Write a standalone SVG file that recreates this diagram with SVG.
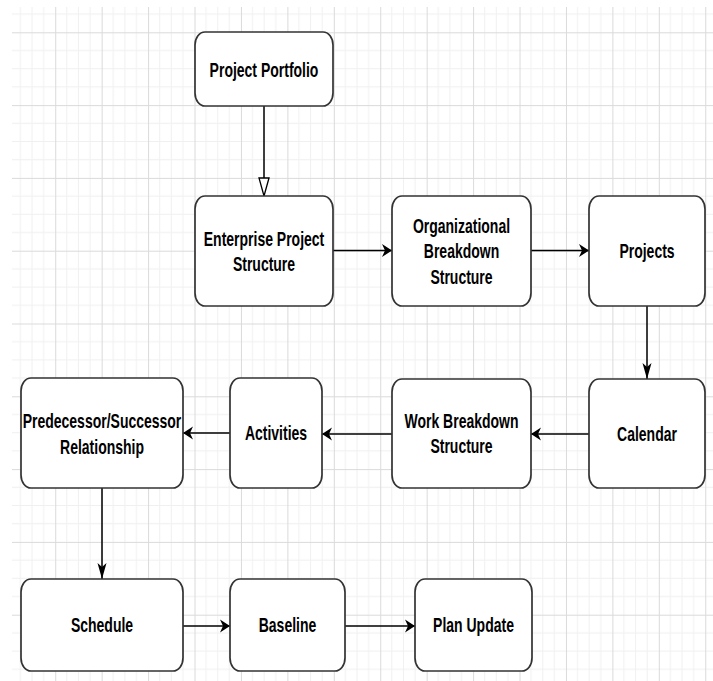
<svg xmlns="http://www.w3.org/2000/svg" width="713" height="681" viewBox="0 0 713 681">
  <defs>
    <pattern id="grid" patternUnits="userSpaceOnUse" x="8.8" y="-40.5" width="46.43" height="72.8">
      <g stroke="#f0f0f0" stroke-width="1" fill="none">
        <path d="M11.6,0 V72.8 M23.2,0 V72.8 M34.8,0 V72.8"/>
        <path d="M0,18.2 H46.43 M0,36.4 H46.43 M0,54.6 H46.43"/>
      </g>
      <g stroke="#dadada" stroke-width="1" fill="none">
        <path d="M0.5,0 V72.8 M0,0.5 H46.43"/>
      </g>
    </pattern>
    <marker id="arrH" markerUnits="userSpaceOnUse" viewBox="0 0 10 13" markerWidth="10" markerHeight="13" refX="10" refY="6.5" orient="auto" overflow="visible">
      <path d="M0,0 L10,6.5 L0,13 L3,6.5 Z" fill="#000"/>
    </marker>
    <marker id="arrV" markerUnits="userSpaceOnUse" viewBox="0 0 16 9" markerWidth="16" markerHeight="9" refX="16" refY="4.5" orient="auto" overflow="visible">
      <path d="M0,0 L16,4.5 L0,9 L4,4.5 Z" fill="#000"/>
    </marker>
    <marker id="tri" markerUnits="userSpaceOnUse" viewBox="0 0 18 10" markerWidth="18" markerHeight="10" refX="0" refY="5" orient="auto" overflow="visible">
      <path d="M0,0 L18,5 L0,10 Z" fill="#fff" stroke="#000" stroke-width="1.3"/>
    </marker>
  </defs>
  <style>
    .box { fill: #ffffff; stroke: #333333; stroke-width: 1.7; }
    .lbl { font-family: "Liberation Sans", Arial, sans-serif; font-size: 14px; font-weight: bold; fill: #000; text-anchor: middle; }
    .edge { fill: none; stroke: #000; stroke-width: 1.5; }
  </style>
  <rect x="0" y="0" width="713" height="681" fill="#ffffff"/>
  <rect x="12" y="7" width="701" height="674" fill="url(#grid)"/>

  <g id="connectors">
    <path class="edge" d="M264,106 V178" marker-end="url(#tri)"/>
    <path class="edge" d="M333,250.5 H392" marker-end="url(#arrH)"/>
    <path class="edge" d="M531,250.5 H589" marker-end="url(#arrH)"/>
    <path class="edge" d="M647,306 V379" marker-end="url(#arrV)"/>
    <path class="edge" d="M589,434 H531" marker-end="url(#arrH)"/>
    <path class="edge" d="M392,434 H322" marker-end="url(#arrH)"/>
    <path class="edge" d="M230,433 H183" marker-end="url(#arrH)"/>
    <path class="edge" d="M102,488 V579" marker-end="url(#arrV)"/>
    <path class="edge" d="M183,626 H230" marker-end="url(#arrH)"/>
    <path class="edge" d="M345,626 H415" marker-end="url(#arrH)"/>
  </g>

  <g id="project-portfolio">
    <rect class="box" x="195" y="32" width="138" height="74" rx="10" ry="13"/>
    <text class="lbl" transform="translate(264,76.5) scale(1,1.4)">Project Portfolio</text>
  </g>
  <g id="enterprise-project-structure">
    <rect class="box" x="195" y="196" width="138" height="110" rx="10" ry="13"/>
    <text class="lbl" transform="translate(264,245.5) scale(1,1.4)"><tspan x="0" y="0">Enterprise Project</tspan><tspan x="0" dy="18.2">Structure</tspan></text>
  </g>
  <g id="organizational-breakdown-structure">
    <rect class="box" x="392" y="196" width="139" height="110" rx="10" ry="13"/>
    <text class="lbl" transform="translate(461.5,233) scale(1,1.4)"><tspan x="0" y="0">Organizational</tspan><tspan x="0" dy="18.2">Breakdown</tspan><tspan x="0" dy="18.2">Structure</tspan></text>
  </g>
  <g id="projects">
    <rect class="box" x="589" y="196" width="116" height="110" rx="10" ry="13"/>
    <text class="lbl" transform="translate(647,258) scale(1,1.4)">Projects</text>
  </g>
  <g id="calendar">
    <rect class="box" x="589" y="379" width="116" height="109" rx="10" ry="13"/>
    <text class="lbl" transform="translate(647,440.5) scale(1,1.4)">Calendar</text>
  </g>
  <g id="work-breakdown-structure">
    <rect class="box" x="392" y="379" width="139" height="109" rx="10" ry="13"/>
    <text class="lbl" transform="translate(461.5,427.7) scale(1,1.4)"><tspan x="0" y="0">Work Breakdown</tspan><tspan x="0" dy="18.2">Structure</tspan></text>
  </g>
  <g id="activities">
    <rect class="box" x="230" y="378" width="92" height="110" rx="10" ry="13"/>
    <text class="lbl" transform="translate(276,440) scale(1,1.4)">Activities</text>
  </g>
  <g id="predecessor-successor-relationship">
    <rect class="box" x="21" y="378" width="162" height="110" rx="10" ry="13"/>
    <text class="lbl" transform="translate(102,428.3) scale(1,1.4)"><tspan x="0" y="0">Predecessor/Successor</tspan><tspan x="0" dy="18.2">Relationship</tspan></text>
  </g>
  <g id="schedule">
    <rect class="box" x="21" y="579" width="162" height="92" rx="10" ry="13"/>
    <text class="lbl" transform="translate(102,631.7) scale(1,1.4)">Schedule</text>
  </g>
  <g id="baseline">
    <rect class="box" x="230" y="579" width="115" height="92" rx="10" ry="13"/>
    <text class="lbl" transform="translate(287.5,631.7) scale(1,1.4)">Baseline</text>
  </g>
  <g id="plan-update">
    <rect class="box" x="415" y="579" width="117" height="92" rx="10" ry="13"/>
    <text class="lbl" transform="translate(473.5,631.7) scale(1,1.4)">Plan Update</text>
  </g>
</svg>
